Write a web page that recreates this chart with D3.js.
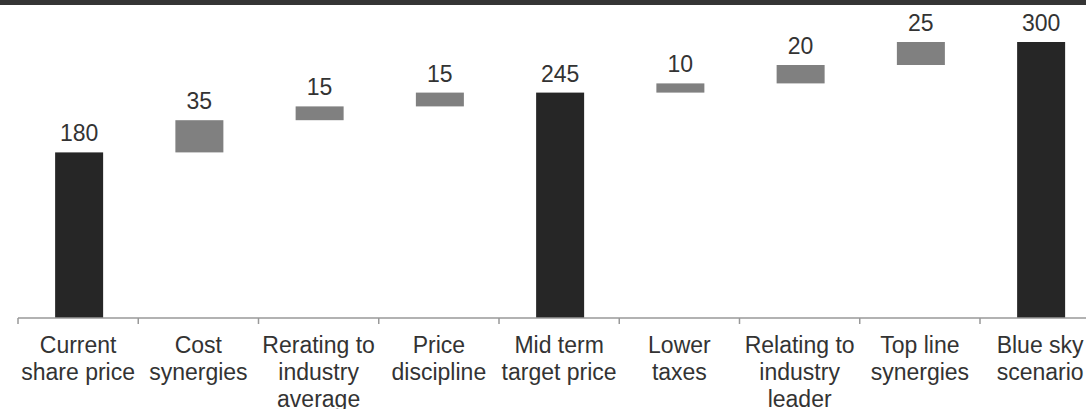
<!DOCTYPE html>
<html>
<head>
<meta charset="utf-8">
<script src="https://cdn.jsdelivr.net/npm/d3@7"></script>
<style>
  body { margin: 0; background: #fff; }
  svg { display: block; font-family: "Liberation Sans", Arial, sans-serif; }
</style>
</head>
<body>
<script>
// waterfall: share price bridge
const categories = [
  'Current\nshare price', 'Cost\nsynergies', 'Rerating to\nindustry\naverage',
  'Price\ndiscipline', 'Mid term\ntarget price', 'Lower\ntaxes',
  'Relating to\nindustry\nleader', 'Top line\nsynergies', 'Blue sky\nscenario'
];
const values = [180, 35, 15, 15, 245, 10, 20, 25, 300];
// true = total bar from zero, false = step on top of the running total
const isTotal = [true, false, false, false, true, false, false, false, true];

const width = 1086;
const height = 409;

// running totals for the floating steps
let run = 0;
const bars = categories.map((c, i) => {
  let y0, y1;
  if (isTotal[i]) { y0 = 0; y1 = values[i]; run = values[i]; }
  else { y0 = run; y1 = run + values[i]; run = y1; }
  return {cat: c, value: values[i], y0, y1, total: isTotal[i]};
});

const x = d3.scaleBand()
  .domain(categories)
  .range([18, 18 + 120.25 * categories.length])
  .paddingInner(0).paddingOuter(0);

const y = d3.scaleLinear().domain([0, 300]).range([318, 42]);

const svg = d3.select('body').append('svg')
  .attr('width', width)
  .attr('height', height);

// dark band along the top edge
svg.append('rect')
  .attr('x', 0).attr('y', 0)
  .attr('width', width).attr('height', 5)
  .attr('fill', '#353535');

const barW = 48;

svg.selectAll('rect.bar')
  .data(bars)
  .enter().append('rect')
  .attr('class', 'bar')
  .attr('x', d => x(d.cat) + x.bandwidth() / 2 - barW / 2 + 1)
  .attr('y', d => y(d.y1))
  .attr('width', barW)
  .attr('height', d => y(d.y0) - y(d.y1))
  .attr('fill', d => d.total ? '#262626' : '#808080');

svg.selectAll('text.val')
  .data(bars)
  .enter().append('text')
  .attr('class', 'val')
  .attr('x', d => x(d.cat) + x.bandwidth() / 2 + 1)
  .attr('y', d => y(d.y1) - 11)
  .attr('text-anchor', 'middle')
  .attr('font-size', 23)
  .attr('fill', '#333')
  .text(d => d.value);

// x axis: line with ticks at band edges
const ax = svg.append('g');
ax.append('line')
  .attr('x1', 18).attr('x2', width)
  .attr('y1', 318).attr('y2', 318)
  .attr('stroke', '#999').attr('stroke-width', 1.5);

ax.selectAll('line.tick')
  .data(categories)
  .enter().append('line')
  .attr('class', 'tick')
  .attr('x1', d => x(d)).attr('x2', d => x(d))
  .attr('y1', 318).attr('y2', 324)
  .attr('stroke', '#999').attr('stroke-width', 1.5);

const lab = ax.selectAll('text.cat')
  .data(categories)
  .enter().append('text')
  .attr('class', 'cat')
  .attr('text-anchor', 'middle')
  .attr('font-size', 23)
  .attr('fill', '#333');

lab.selectAll('tspan')
  .data(d => d.split('\n').map(t => ({t, c: d})))
  .enter().append('tspan')
  .attr('x', d => x(d.c) + x.bandwidth() / 2)
  .attr('y', (d, i) => 353 + i * 27)
  .text(d => d.t);
</script>
</body>
</html>
